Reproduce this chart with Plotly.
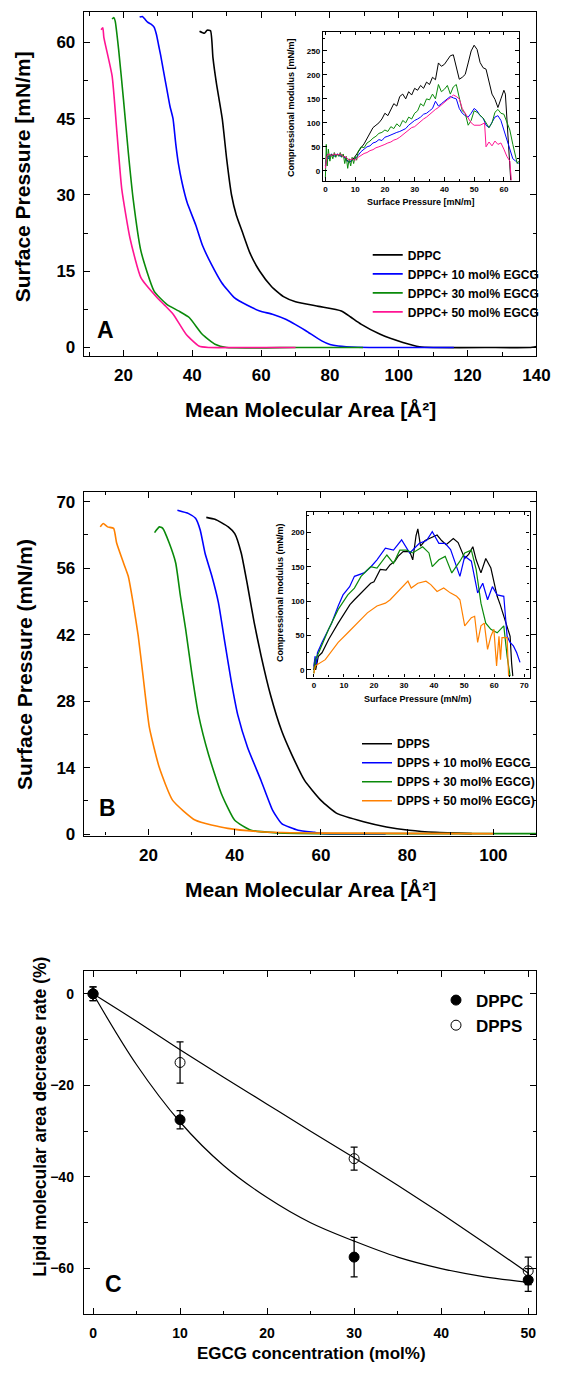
import plotly.graph_objects as go

W, H = 569, 1377
FONT = "Liberation Sans, Arial, sans-serif"

# ---------------- Panel A: isotherms (area, pressure) ----------------
a_dppc_area = [42.1, 43.5, 44.3, 45.3, 46.0, 47.0, 48.7, 50.0, 51.4, 52.8, 54.5, 56.8, 59.6, 63.0, 66.5, 70.0,
               76.7, 83.3, 86.0, 89.0, 94.6, 101.2, 106.0, 110.0, 125.0, 138.0, 140.0]
a_dppc_pres = [62.2, 61.8, 62.4, 62.3, 57.0, 52.0, 45.0, 37.0, 30.0, 26.0, 22.8, 18.5, 15.0, 12.0, 10.0, 9.0,
               8.1, 7.2, 6.0, 4.6, 2.6, 1.0, 0.15, 0.0, 0.0, 0.0, 0.2]
a_10_area = [24.7, 25.5, 26.2, 27.0, 28.0, 28.9, 29.6, 30.2, 30.8, 31.6, 32.6, 33.5, 34.4, 35.2, 36.0, 37.0, 38.5,
             41.0, 43.0, 45.6, 48.5, 52.2, 56.0, 59.6, 63.5, 67.3, 70.0, 73.0, 77.6, 80.0, 82.4, 88.0, 100.0, 116.0]
a_10_pres = [65.0, 65.1, 64.6, 64.0, 63.6, 63.0, 61.5, 59.5, 57.5, 54.5, 50.8, 47.5, 45.0, 40.0, 36.0, 32.5, 28.5,
             24.1, 20.0, 16.3, 12.8, 9.8, 8.3, 7.2, 6.5, 5.5, 4.5, 3.3, 1.3, 0.6, 0.3, 0.05, 0.0, 0.0]
a_30_area = [16.7, 17.2, 17.6, 18.6, 20.0, 21.4, 22.8, 25.1, 28.9, 32.6, 36.0, 39.1, 42.9, 46.6, 50.0, 70.0, 89.6]
a_30_pres = [64.6, 64.9, 64.2, 58.6, 48.8, 38.4, 29.3, 18.9, 11.1, 8.5, 7.2, 5.9, 2.6, 0.65, 0.0, 0.0, 0.0]
a_50_area = [13.5, 14.0, 14.3, 16.7, 18.1, 19.5, 21.9, 25.1, 29.8, 32.0, 34.5, 38.2, 41.9, 44.7, 55.0, 70.0]
a_50_pres = [62.5, 62.9, 61.0, 53.4, 42.3, 31.2, 21.5, 13.7, 9.8, 8.3, 6.5, 2.6, 0.3, 0.0, 0.0, 0.0]

# ---------------- Panel A inset: compressional modulus ----------------
ia_dppc_p = [0, 0.5, 1, 2, 3, 4, 5, 6, 7, 7.5, 8, 9, 10, 11, 12, 13, 14, 15, 16, 17, 18, 19, 20, 21, 22, 23, 24,
             25, 26, 27, 28, 29, 30, 31, 32, 33, 34, 35, 36, 37, 38, 39, 40, 41, 42, 43, 44, 45, 46, 47, 48, 49,
             50, 51, 52, 53, 54, 55, 56, 57, 58, 59, 60, 60.5, 61, 61.5, 62, 62.3]
ia_dppc_k = [10, 28, 30, 32, 33, 34, 33, 32, 25, 20, 18, 22, 30, 40, 48, 56, 68, 80, 90, 95, 100, 108, 120, 115,
             128, 140, 135, 155, 160, 150, 165, 158, 172, 168, 178, 172, 185, 180, 195, 190, 225, 218, 222, 230,
             240, 242, 215, 191, 195, 201, 225, 250, 262, 253, 226, 215, 212, 184, 160, 149, 132, 150, 168, 160,
             110, 70, 20, -20]
ia_10_p = [0, 0.5, 1, 2, 3, 4, 5, 6, 7, 8, 9, 10, 11, 12, 13, 14, 15, 16, 17, 18, 19, 20, 21, 22, 23, 24, 25, 26,
           27, 28, 29, 30, 31, 32, 33, 34, 35, 36, 37, 38, 39, 40, 41, 42, 43, 44, 45, 46, 47, 48, 49, 50, 51, 52,
           53, 54, 55, 56, 57, 58, 59, 60, 61, 62, 63, 64, 65]
ia_10_k = [10, 35, 25, 35, 30, 35, 30, 32, 22, 18, 22, 25, 32, 40, 45, 50, 52, 58, 60, 65, 63, 70, 72, 75, 78, 80,
           82, 85, 88, 95, 100, 105, 108, 112, 118, 120, 125, 130, 145, 135, 140, 145, 150, 155, 152, 150, 130,
           120, 115, 112, 120, 130, 125, 115, 110, 95, 90, 100, 112, 115, 105, 85, 65, 50, 25, 20, 15]
ia_30_p = [0, 0.3, 0.6, 1, 1.5, 2, 2.5, 3, 3.5, 4, 4.5, 5, 5.5, 6, 6.5, 7, 7.5, 8, 8.5, 9, 9.5, 10, 10.5, 11, 12,
           13, 14, 15, 16, 17, 18, 19, 20, 21, 22, 23, 24, 25, 26, 27, 28, 29, 30, 31, 32, 33, 34, 35, 36, 37, 38,
           39, 40, 41, 42, 43, 44, 45, 46, 47, 48, 49, 50, 51, 52, 53, 54, 55, 56, 57, 58, 59, 60, 61, 62, 63,
           64, 64.5, 65]
ia_30_k = [-15, 55, 10, 45, 20, 35, 25, 38, 28, 35, 30, 38, 28, 35, 15, 30, 5, 25, 10, 28, 15, 30, 22, 40, 50,
           48, 58, 62, 68, 72, 78, 80, 85, 82, 92, 88, 98, 92, 105, 100, 112, 108, 120, 125, 140, 135, 150, 148,
           160, 150, 180, 165, 170, 178, 160, 175, 180, 150, 125, 120, 95, 105, 125, 122, 115, 110, 100, 90, 100,
           122, 128, 120, 118, 100, 85, 55, 30, 15, 20]
ia_50_p = [0, 0.5, 1, 2, 3, 4, 5, 6, 7, 8, 9, 10, 11, 12, 13, 14, 15, 16, 17, 18, 19, 20, 21, 22, 23, 24, 25, 26,
           27, 28, 29, 30, 31, 32, 33, 34, 35, 36, 37, 38, 39, 40, 41, 42, 43, 44, 45, 46, 47, 48, 49, 50, 51, 52,
           53, 53.5, 54, 55, 56, 57, 58, 59, 60, 61, 62, 62.5]
ia_50_k = [5, 30, 35, 32, 35, 33, 35, 30, 28, 22, 25, 22, 28, 32, 36, 38, 42, 44, 48, 50, 52, 55, 58, 60, 64, 66,
           70, 75, 80, 85, 90, 92, 98, 102, 108, 112, 118, 122, 128, 132, 138, 142, 148, 152, 158, 155, 150, 130,
           120, 110, 100, 95, 95, 95, 98, 100, 50, 60, 52, 62, 55, 58, 45, 30, 20, -20]

# ---------------- Panel B: isotherms ----------------
b_dpps_area = [33.4, 35.4, 36.9, 38.5, 40.0, 41.5, 43.0, 44.5, 46.1, 48.3, 50.9, 53.2, 56.2, 60.0, 63.8, 69.9,
               75.2, 80.5, 86.6, 95.0]
b_dpps_pres = [66.7, 66.3, 65.6, 64.7, 63.3, 59.2, 52.2, 44.6, 37.6, 29.3, 21.7, 16.8, 11.3, 7.1, 4.3, 2.6,
               1.5, 0.8, 0.35, 0.1]
b_10_area = [26.7, 29.3, 30.9, 32.0, 33.1, 34.7, 36.2, 37.7, 39.2, 40.7, 43.0, 46.1, 48.8, 50.9, 54.7, 58.5,
             60.7, 75.0]
b_10_pres = [68.2, 67.5, 66.5, 64.0, 59.2, 54.3, 48.8, 40.4, 32.1, 25.1, 18.2, 11.3, 5.0, 2.2, 0.8, 0.35, 0.1, 0.0]
b_30_area = [21.4, 22.5, 23.3, 24.8, 26.3, 27.4, 28.6, 30.1, 31.6, 33.9, 36.9, 40.0, 43.8, 49.1, 60.0, 110.0]
b_30_pres = [63.5, 64.7, 64.4, 61.3, 57.1, 50.1, 43.2, 33.5, 25.1, 16.8, 8.5, 2.9, 0.8, 0.3, 0.1, 0.1]
b_50_area = [8.8, 9.5, 10.5, 11.9, 12.6, 14.2, 15.3, 16.4, 17.6, 18.7, 20.2, 22.5, 25.6, 30.9, 38.4, 46.1, 60.0,
             100.0]
b_50_pres = [64.7, 65.4, 64.7, 64.4, 61.3, 57.1, 54.3, 48.8, 41.8, 33.5, 22.4, 14.0, 7.1, 2.9, 1.2, 0.5, 0.2, 0.1]

# ---------------- Panel B inset ----------------
ib_dpps_p = [0, 0.3, 0.6, 1, 1.5, 2.7, 5, 8.1, 10, 12, 13.5, 15.7, 17, 18.9, 20, 22.1, 24, 25.4, 27, 28, 29.7,
             31.9, 32.9, 34, 34.6, 35.5, 37, 39, 41, 42.5, 44, 46.4, 48, 50.2, 51.5, 52.9, 54, 55.6, 57.2, 58.9,
             60, 61, 62, 63.2, 64.3, 65.3, 65.8, 66.2]
ib_dpps_k = [0, 15, 0, 10, 20, 25, 45, 68, 82, 95, 102, 112, 118, 126, 128, 146, 145, 153, 158, 165, 172, 172,
             160, 195, 205, 180, 188, 192, 196, 188, 182, 191, 185, 162, 168, 179, 160, 141, 162, 148, 125, 107,
             95, 78, 60, 49, 10, -9]
ib_10_p = [0, 0.4, 0.8, 1.2, 2.7, 5.9, 8.1, 9.7, 11.9, 13.5, 16.7, 19, 21, 23.8, 26.5, 29.2, 31.9, 35.1, 37.5,
           39.4, 41.6, 43.7, 45.5, 47, 48.6, 50.2, 52.4, 54.5, 56.2, 57.8, 59.4, 61, 63.2, 64.3, 65.3, 66.4,
           67.5, 68.6]
ib_10_k = [5, 20, 8, 25, 40, 68, 93, 109, 121, 136, 141, 150, 160, 177, 174, 189, 170, 184, 188, 201, 184, 184,
           175, 155, 136, 165, 158, 112, 126, 102, 121, 109, 107, 49, 40, 35, 25, 11]
ib_30_p = [0, 0.5, 1.6, 4.9, 8.1, 11.3, 13.5, 15.7, 18.9, 21, 24.3, 26.5, 28.6, 30.8, 32.9, 36.2, 38.3, 39.4, 41.6,
           43.7, 45.9, 48.6, 50.2, 52.4, 54, 55.6, 57.2, 58.9, 61, 63.2, 64.3, 65.3]
ib_30_k = [-5, 15, 25, 59, 88, 109, 119, 136, 150, 148, 167, 155, 174, 174, 170, 179, 170, 150, 160, 165, 141,
           158, 170, 174, 146, 97, 68, 59, 54, 64, 20, -9]
ib_50_p = [0, 0.5, 3.8, 8.1, 11.3, 14.6, 17.8, 21, 23.8, 25.4, 27.5, 29.7, 31.3, 32.4, 34.6, 37.3, 38.9, 41, 43.2,
           45.4, 47.5, 48.6, 50.2, 52.4, 53.5, 54.5, 55.6, 56.7, 57.8, 58.9, 59.9, 60.8, 61.6, 62.1, 62.6, 64.3,
           64.8]
ib_50_k = [-5, 6, 15, 40, 54, 68, 83, 93, 97, 102, 112, 121, 129, 119, 126, 129, 124, 114, 119, 112, 107, 102,
           64, 76, 78, 40, 64, 68, 30, 49, 59, 6, 49, 15, 47, 47, -9]

# ---------------- Panel C ----------------
egcg = [0, 10, 30, 50]
dppc_rate = [0.0, -27.5, -57.5, -62.5]
dppc_err = [1.5, 2.0, 4.3, 2.5]
dpps_rate = [0.0, -15.0, -36.0, -60.5]
dpps_err = [1.5, 4.5, 2.5, 3.0]
fit_x = [0, 5, 10, 15, 20, 25, 30, 35, 40, 45, 50]
dppc_fit = [0.0, -15.5, -28.0, -37.5, -44.5, -50.0, -54.0, -57.5, -60.0, -61.8, -63.0]
dpps_fit = [0.0, -6.0, -12.2, -18.2, -24.1, -30.0, -35.8, -41.8, -48.0, -54.4, -61.0]

BLACK, BLUE, GREEN, PINK, ORANGE = "#000000", "#0000ff", "#0a8a0a", "#ff1493", "#ff8000"


def dx(p0, p1):
    return [p0 / W, p1 / W]


def dy(p_top, p_bot):
    return [1 - p_bot / H, 1 - p_top / H]


fig = go.Figure()

# Panel A main
for xs, ys, c, n in [(a_dppc_area, a_dppc_pres, BLACK, "DPPC"),
                     (a_10_area, a_10_pres, BLUE, "DPPC+ 10 mol% EGCG"),
                     (a_30_area, a_30_pres, GREEN, "DPPC+ 30 mol% EGCG"),
                     (a_50_area, a_50_pres, PINK, "DPPC+ 50 mol% EGCG")]:
    fig.add_trace(go.Scatter(x=xs, y=ys, mode="lines", name=n, line=dict(color=c, width=1.6, shape="spline",
                                                                          smoothing=0.5),
                             xaxis="x", yaxis="y", legend="legend"))
# Panel A inset
for xs, ys, c in [(ia_dppc_p, ia_dppc_k, BLACK), (ia_10_p, ia_10_k, BLUE), (ia_30_p, ia_30_k, GREEN),
                  (ia_50_p, ia_50_k, PINK)]:
    fig.add_trace(go.Scatter(x=xs, y=ys, mode="lines", showlegend=False, line=dict(color=c, width=1),
                             xaxis="x2", yaxis="y2"))
# Panel B main
for xs, ys, c, n in [(b_dpps_area, b_dpps_pres, BLACK, "DPPS"),
                     (b_10_area, b_10_pres, BLUE, "DPPS + 10 mol% EGCG"),
                     (b_30_area, b_30_pres, GREEN, "DPPS + 30 mol% EGCG)"),
                     (b_50_area, b_50_pres, ORANGE, "DPPS + 50 mol% EGCG)")]:
    fig.add_trace(go.Scatter(x=xs, y=ys, mode="lines", name=n, line=dict(color=c, width=1.6, shape="spline",
                                                                          smoothing=0.5),
                             xaxis="x3", yaxis="y3", legend="legend2"))
# Panel B inset
for xs, ys, c in [(ib_dpps_p, ib_dpps_k, BLACK), (ib_10_p, ib_10_k, BLUE), (ib_30_p, ib_30_k, GREEN),
                  (ib_50_p, ib_50_k, ORANGE)]:
    fig.add_trace(go.Scatter(x=xs, y=ys, mode="lines", showlegend=False, line=dict(color=c, width=1.2),
                             xaxis="x4", yaxis="y4"))
# Panel C
fig.add_trace(go.Scatter(x=fit_x, y=dppc_fit, mode="lines", showlegend=False,
                         line=dict(color="black", width=1.2, shape="spline"), xaxis="x5", yaxis="y5"))
fig.add_trace(go.Scatter(x=fit_x, y=dpps_fit, mode="lines", showlegend=False,
                         line=dict(color="black", width=1.2, shape="spline"), xaxis="x5", yaxis="y5"))
fig.add_trace(go.Scatter(x=egcg, y=dppc_rate, mode="markers", name="DPPC",
                         marker=dict(symbol="circle", size=10, color="black", line=dict(color="black", width=1)),
                         error_y=dict(type="data", array=dppc_err, color="black", thickness=1.3, width=3.5),
                         xaxis="x5", yaxis="y5", legend="legend3"))
fig.add_trace(go.Scatter(x=egcg, y=dpps_rate, mode="markers", name="DPPS",
                         marker=dict(symbol="circle-open", size=10, color="black", line=dict(color="black",
                                                                                           width=1)),
                         error_y=dict(type="data", array=dpps_err, color="black", thickness=1.3, width=3.5),
                         xaxis="x5", yaxis="y5", legend="legend3"))


def axis(domain, anchor, rng, tickvals, minor, fsize, tlen=6, mlen=3.5, standoff=None):
    d = dict(domain=domain, anchor=anchor, range=rng, tickvals=tickvals, ticks="inside", ticklen=tlen,
             tickwidth=1.2, tickcolor="black", showline=True, linecolor="black", linewidth=1.3,
             mirror="allticks", showgrid=False, zeroline=False,
             tickfont=dict(family=FONT, size=fsize, color="black", weight="bold"),
             minor=dict(dtick=minor, ticks="inside", ticklen=mlen, tickwidth=1, tickcolor="black", showgrid=False))
    if standoff is not None:
        d["ticklabelstandoff"] = standoff
    return d


layout = dict(
    width=W, height=H, margin=dict(l=0, r=0, t=0, b=0, pad=0), paper_bgcolor="white", plot_bgcolor="white",
    xaxis=axis(dx(86, 550), "y", [8.5, 140], [20, 40, 60, 80, 100, 120, 140], 10, 17, standoff=4),
    yaxis=axis(dy(12, 358), "x", [-1.6, 66], [0, 15, 30, 45, 60], 7.5, 17, standoff=4),
    xaxis2=axis(dx(331, 532), "y2", [-0.85, 65.05], [0, 10, 20, 30, 40, 50, 60], 5, 8, tlen=3.5, mlen=2),
    yaxis2=axis(dy(32, 182), "x2", [-21, 290], [0, 50, 100, 150, 200, 250], 25, 8, tlen=3.5, mlen=2),
    xaxis3=axis(dx(86, 550), "y3", [5, 110], [20, 40, 60, 80, 100], 10, 17, standoff=4),
    yaxis3=axis(dy(495, 841), "x3", [-0.3, 72.1], [0, 14, 28, 42, 56, 70], 7, 17, standoff=4),
    xaxis4=axis(dx(315, 543), "y4", [-2.2, 71.8], [0, 10, 20, 30, 40, 50, 60, 70], 5, 8, tlen=3.5, mlen=2),
    yaxis4=axis(dy(515, 682), "x4", [-11, 230], [0, 50, 100, 150, 200], 25, 8, tlen=3.5, mlen=2),
    xaxis5=axis(dx(86, 550), "y5", [-1.05, 50.95], [0, 10, 20, 30, 40, 50], 5, 14, standoff=6),
    yaxis5=axis(dy(977, 1323), "x5", [-70, 5.06], [0, -20, -40, -60], 10, 14, standoff=6),
    legend=dict(x=377 / W, y=1 - 242 / H, xanchor="left", yanchor="top", bgcolor="rgba(0,0,0,0)",
                font=dict(family=FONT, size=12, color="black", weight="bold"), tracegroupgap=0, itemwidth=30),
    legend2=dict(x=366 / W, y=1 - 734 / H, xanchor="left", yanchor="top", bgcolor="rgba(0,0,0,0)",
                 font=dict(family=FONT, size=12, color="black", weight="bold"), tracegroupgap=0, itemwidth=30),
    legend3=dict(x=447 / W, y=1 - 989 / H, xanchor="left", yanchor="top", bgcolor="rgba(0,0,0,0)",
                 font=dict(family=FONT, size=17, color="black", weight="bold"), tracegroupgap=0, itemwidth=30),
)
fig.update_layout(**layout)


def note(text, xp, yp, size, angle=0):
    fig.add_annotation(text=text, x=xp / W, y=1 - yp / H, xref="paper", yref="paper", showarrow=False,
                       textangle=angle, xanchor="center", yanchor="middle",
                       font=dict(family=FONT, size=size, color="black", weight="bold"))


note("Surface Pressure [mN/m]", 23, 178, 21, -90)
note("Mean Molecular Area [Å²]", 318, 412, 21)
note("A", 108, 332, 23)
note("Compressional modulus [mN/m]", 299, 108, 9, -90)
note("Surface Pressure [mN/m]", 432, 203, 9)
note("Surface Pressure (mN/m)", 25, 669, 21, -90)
note("Mean Molecular Area [Å²]", 318, 895, 21)
note("B", 110, 813, 23)
note("Compressional modulus (mN/m)", 287, 596, 9, -90)
note("Surface Pressure (mN/m)", 429, 704, 9)
note("Lipid molecular area decrease rate (%)", 41, 1124, 17.5, -90)
note("EGCG concentration (mol%)", 319, 1362, 17)
note("C", 116, 1292, 23)

fig.write_html("out.html")
